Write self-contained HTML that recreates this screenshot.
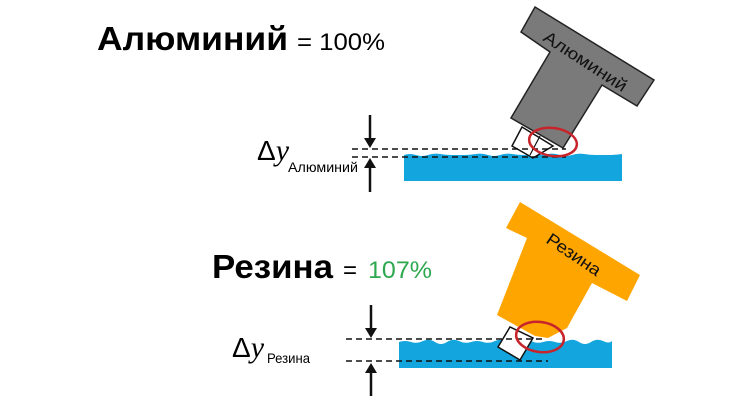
<!DOCTYPE html>
<html><head><meta charset="utf-8"><style>
html,body{margin:0;padding:0;background:#fff;}
svg{display:block;}
text{font-family:"Liberation Sans",sans-serif;}
</style></head><body>
<svg width="755" height="401" viewBox="0 0 755 401" xmlns="http://www.w3.org/2000/svg">
<!-- Titles -->
<text x="97" y="50" font-size="33" font-weight="bold" textLength="191" lengthAdjust="spacingAndGlyphs">Алюминий</text>
<text x="297" y="50" font-size="24" textLength="88" lengthAdjust="spacingAndGlyphs">= 100%</text>
<text x="212" y="278" font-size="33" font-weight="bold" textLength="121" lengthAdjust="spacingAndGlyphs">Резина</text>
<text x="343" y="278" font-size="24">=</text>
<text x="368" y="278" font-size="24" fill="#2ea84f" textLength="64" lengthAdjust="spacingAndGlyphs">107%</text>

<!-- Δy labels -->
<text x="257" y="160" font-size="28" font-family="DejaVu Serif,serif">Δ<tspan font-family="Liberation Serif,serif" font-style="italic" font-size="30">y</tspan></text>
<text x="288" y="172" font-size="14" textLength="70" lengthAdjust="spacingAndGlyphs">Алюминий</text>
<text x="232" y="357" font-size="28" font-family="DejaVu Serif,serif">Δ<tspan font-family="Liberation Serif,serif" font-style="italic" font-size="30">y</tspan></text>
<text x="267" y="363" font-size="14" textLength="43" lengthAdjust="spacingAndGlyphs">Резина</text>

<!-- Aluminium scene -->
<path d="M404,155 q6,-2 12,0 t12,0 t12,-1 t12,1 t12,0 t12,-1 t12,1 t12,0 t12,-1 t12,1 t12,0 t12,-1 t12,1 t12,0 t12,-1 t12,1 t12,0 t14,-1 L622,181 L404,181 Z" fill="#12a5de"/>
<polygon points="535,7 654,80 637,106 602,85 563,148 511,118 550,52 521,32" fill="#7a7a7a" stroke="#222" stroke-width="1.5"/>
<text transform="translate(542,40) rotate(33)" font-size="17" fill="#111" textLength="96" lengthAdjust="spacingAndGlyphs">Алюминий</text>
<polygon points="522,127 512,146 533,158 553,146" fill="#fff" stroke="#111" stroke-width="1.5"/>
<line x1="540" y1="136" x2="530" y2="155" stroke="#111" stroke-width="1.2"/>
<line x1="352" y1="149" x2="566" y2="149" stroke="#111" stroke-width="1.6" stroke-dasharray="6,4"/>
<line x1="352" y1="157" x2="566" y2="157" stroke="#111" stroke-width="1.6" stroke-dasharray="6,4"/>
<ellipse cx="553" cy="142" rx="24" ry="14" transform="rotate(8 553 142)" fill="none" stroke="#c8242b" stroke-width="2.5"/>
<line x1="370" y1="115" x2="370" y2="140" stroke="#111" stroke-width="2.5"/>
<polygon points="364,138 376,138 370,148" fill="#111"/>
<line x1="370" y1="192" x2="370" y2="166" stroke="#111" stroke-width="2.5"/>
<polygon points="364,168 376,168 370,158" fill="#111"/>

<!-- Resin scene -->
<path d="M399,342 q6,-2 12,0 t12,-1 t12,1 t12,0 t12,-1 t12,1 t12,0 t12,-1 t12,1 t12,0 t12,-1 t12,1 t12,0 t12,-1 t12,1 t12,0 t12,-1 t9,0 L612,368 L399,368 Z" fill="#12a5de"/>
<polygon points="520,202 640,275 627,301 592,283 567,328 548,338 535,336 497,315 527,238 506,228" fill="#ffa500"/>
<text transform="translate(545,242) rotate(34)" font-size="17" fill="#111" textLength="62" lengthAdjust="spacingAndGlyphs">Резина</text>
<polygon points="510,327 498,347 520,360 533,338" fill="#fff" stroke="#111" stroke-width="1.5"/>
<line x1="346" y1="339" x2="545" y2="339" stroke="#111" stroke-width="1.6" stroke-dasharray="6,4"/>
<line x1="346" y1="361" x2="548" y2="361" stroke="#111" stroke-width="1.6" stroke-dasharray="6,4"/>
<ellipse cx="540" cy="337" rx="24" ry="15" transform="rotate(8 540 337)" fill="none" stroke="#c8242b" stroke-width="2.5"/>
<line x1="371" y1="305" x2="371" y2="330" stroke="#111" stroke-width="2.5"/>
<polygon points="365,328 377,328 371,338" fill="#111"/>
<line x1="371" y1="396" x2="371" y2="371" stroke="#111" stroke-width="2.5"/>
<polygon points="365,373 377,373 371,363" fill="#111"/>
</svg>
</body></html>
